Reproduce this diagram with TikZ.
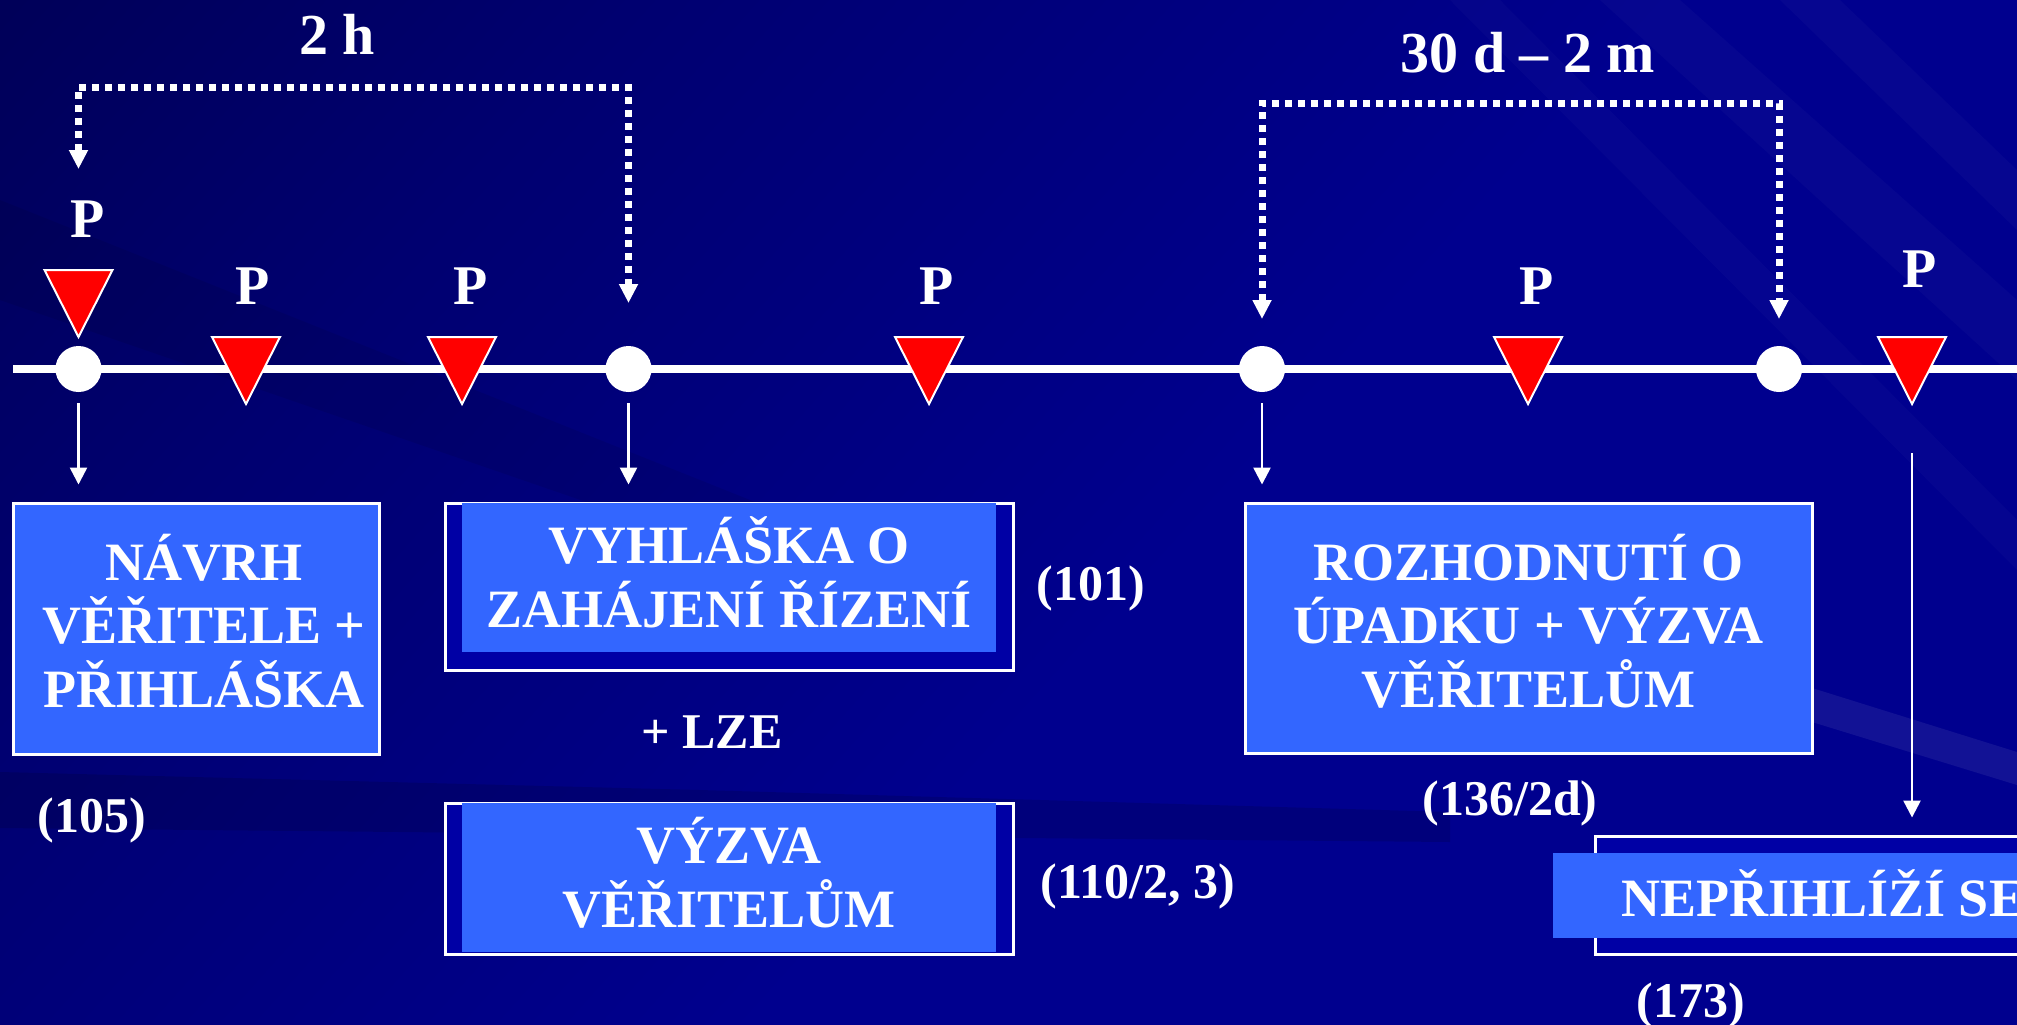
\documentclass[tikz,border=0pt]{standalone}
\usepackage{fontspec}
\setmainfont{Liberation Serif}
\usetikzlibrary{arrows.meta}
\definecolor{bgdark}{RGB}{0,0,66}
\definecolor{bgmid}{RGB}{0,0,112}
\definecolor{bgbase}{RGB}{0,0,142}
\definecolor{boxblue}{RGB}{51,102,255}
\definecolor{boxdark}{RGB}{0,0,165}
\definecolor{mred}{RGB}{255,0,0}
\pgfdeclareverticalshading{bgshade}{100bp}{color(0bp)=(bgbase); color(45bp)=(bgbase); color(70bp)=(bgmid); color(100bp)=(bgdark)}
\begin{document}
\begin{tikzpicture}[x=0.5pt,y=-0.5pt,
  txt/.style={text=white, font=\bfseries\fontsize{27}{31.75}\selectfont, inner sep=0pt, align=center},
  lbl/.style={text=white, font=\bfseries\fontsize{25}{30}\selectfont, inner sep=0pt, anchor=base},
  plbl/.style={text=white, font=\bfseries\fontsize{28}{32}\selectfont, inner sep=0pt, anchor=base},
  ttl/.style={text=white, font=\bfseries\fontsize{29}{33}\selectfont, inner sep=0pt, anchor=base},
  lightbox/.style={draw=white, line width=1.5pt, fill=boxblue, inner sep=0pt},
  framebox/.style={draw=white, line width=1.5pt, fill=boxdark, inner sep=0pt},
  innerbox/.style={fill=boxblue, inner sep=0pt},
  dotnode/.style={circle, fill=white, minimum size=23pt, inner sep=0pt},
  marktri/.style={fill=mred, draw=white, line width=1pt, line join=miter},
  arr/.style={white, line width=1.25pt, -{Triangle[length=8.5pt,width=8.5pt]}},
  dotarr/.style={white, line width=3.5pt, dash pattern=on 3.5pt off 3pt,
     {Triangle[length=9.5pt,width=9pt]}-{Triangle[length=9.5pt,width=9pt]}},
]
% background
\useasboundingbox (0,0) rectangle (2017,1024);
\shade[shading=bgshade, shading angle=48] (0,0) rectangle (2017,1024);
\fill[black, opacity=0.13] (0,772) -- (700,790) -- (1450,812) -- (1450,842) -- (700,835) -- (0,828) -- cycle;
\fill[white, opacity=0.07] (1812,688) -- (2017,752) -- (2017,785) -- (1812,722) -- cycle;
\fill[white, opacity=0.025] (1600,0) -- (1680,0) -- (2017,300) -- (2017,380) -- cycle;
\fill[white, opacity=0.025] (1780,0) -- (1840,0) -- (2017,170) -- (2017,230) -- cycle;
\fill[white, opacity=0.02] (1450,0) -- (1500,0) -- (2017,520) -- (2017,570) -- cycle;
\fill[black, opacity=0.08] (0,200) -- (900,560) -- (900,610) -- (0,300) -- cycle;

% timeline
\coordinate (tl0) at (13,369);
\coordinate (tl1) at (2030,369);
\draw[white, line width=4pt] (tl0) -- (tl1);

% circles
\node[dotnode] (c1) at (78.5,369) {};
\node[dotnode] (c2) at (628.5,369) {};
\node[dotnode] (c3) at (1262,369) {};
\node[dotnode] (c4) at (1779,369) {};

% red markers
\filldraw[marktri] (44.5,270) -- (112.5,270) -- (78.5,337) -- cycle;
\foreach \xx in {246,462,929,1528,1912}{
  \filldraw[marktri] (\xx-34,337) -- (\xx+34,337) -- (\xx,404) -- cycle;
}
\coordinate (t6) at (1912,404);

% P labels
\node[plbl] (p1) at (87.5,237) {P};
\node[plbl] (p2) at (253,304) {P};
\node[plbl] (p3) at (471,304) {P};
\node[plbl] (p4) at (937,304) {P};
\node[plbl] (p5) at (1537,304) {P};
\node[plbl] (p6) at (1920,287) {P};

% durations
\node[ttl] (dur1) at (337,54) {2 h};
\node[ttl] (dur2) at (1528,72) {30 d -- 2 m};
\coordinate (k1) at (350,87);
\coordinate (d1a) at (78.5,169);
\coordinate (d1b) at (628.5,303);
\draw[dotarr] (d1a) -- (d1a |- k1) -- (d1b |- k1) -- (d1b);
\coordinate (k2) at (1500,103);
\coordinate (d2a) at (1262,319);
\coordinate (d2b) at (1779,319);
\draw[dotarr] (d2a) -- (d2a |- k2) -- (d2b |- k2) -- (d2b);

% boxes
\node[lightbox, minimum width=183pt, minimum height=125.5pt] (b1) at (196,628.5) {};
\node[txt] (t1) at (204,621) {NÁVRH\\VĚŘITELE +\\PŘIHLÁŠKA};

\node[framebox, minimum width=284pt, minimum height=83.5pt] (b2) at (729,586.5) {};
\node[innerbox, minimum width=267pt, minimum height=74.5pt] (b2i) at (729,577.5) {};
\node[txt] (t2) at (729,572.5) {VYHLÁŠKA O\\ZAHÁJENÍ ŘÍZENÍ};

\node[framebox, minimum width=284pt, minimum height=75.5pt] (b3) at (729,878.5) {};
\node[innerbox, minimum width=267pt, minimum height=74.5pt] (b3i) at (729,877.5) {};
\node[txt] (t3) at (729,872.5) {VÝZVA\\VĚŘITELŮM};

\node[lightbox, minimum width=283.5pt, minimum height=125pt] (b4) at (1528.5,628) {};
\node[txt] (t4) at (1528.5,621) {ROZHODNUTÍ O\\ÚPADKU + VÝZVA\\VĚŘITELŮM};

\node[framebox, minimum width=252.5pt, minimum height=59pt] (b5) at (1847.5,895) {};
\node[innerbox, minimum width=273.5pt, minimum height=42.5pt] (b5i) at (1826.5,895.5) {};
\node[txt, anchor=base west] (t5) at (1621,916) {NEPŘIHLÍŽÍ SE};

% side labels
\node[lbl] (l101) at (1091,600) {(101)};
\node[lbl] (l110) at (1138,898) {(110/2, 3)};
\node[lbl] (l105) at (92,832) {(105)};
\node[lbl] (l136) at (1510,815) {(136/2d)};
\node[lbl] (l173) at (1691,1017) {(173)};
\node[lbl] (lze) at (712,748) {+ LZE};

% arrows down
\draw[arr, shorten <=5.5pt, shorten >=8.5pt] (c1) -- (c1 |- b1.north);
\draw[arr, shorten <=5.5pt, shorten >=8.5pt] (c2) -- (c2 |- b2.north);
\draw[arr, shorten <=5.5pt, shorten >=8.5pt] (c3) -- (c3 |- b4.north);
\draw[arr, shorten <=24.5pt, shorten >=8.5pt] (t6) -- (t6 |- b5.north);
\end{tikzpicture}
\end{document}
